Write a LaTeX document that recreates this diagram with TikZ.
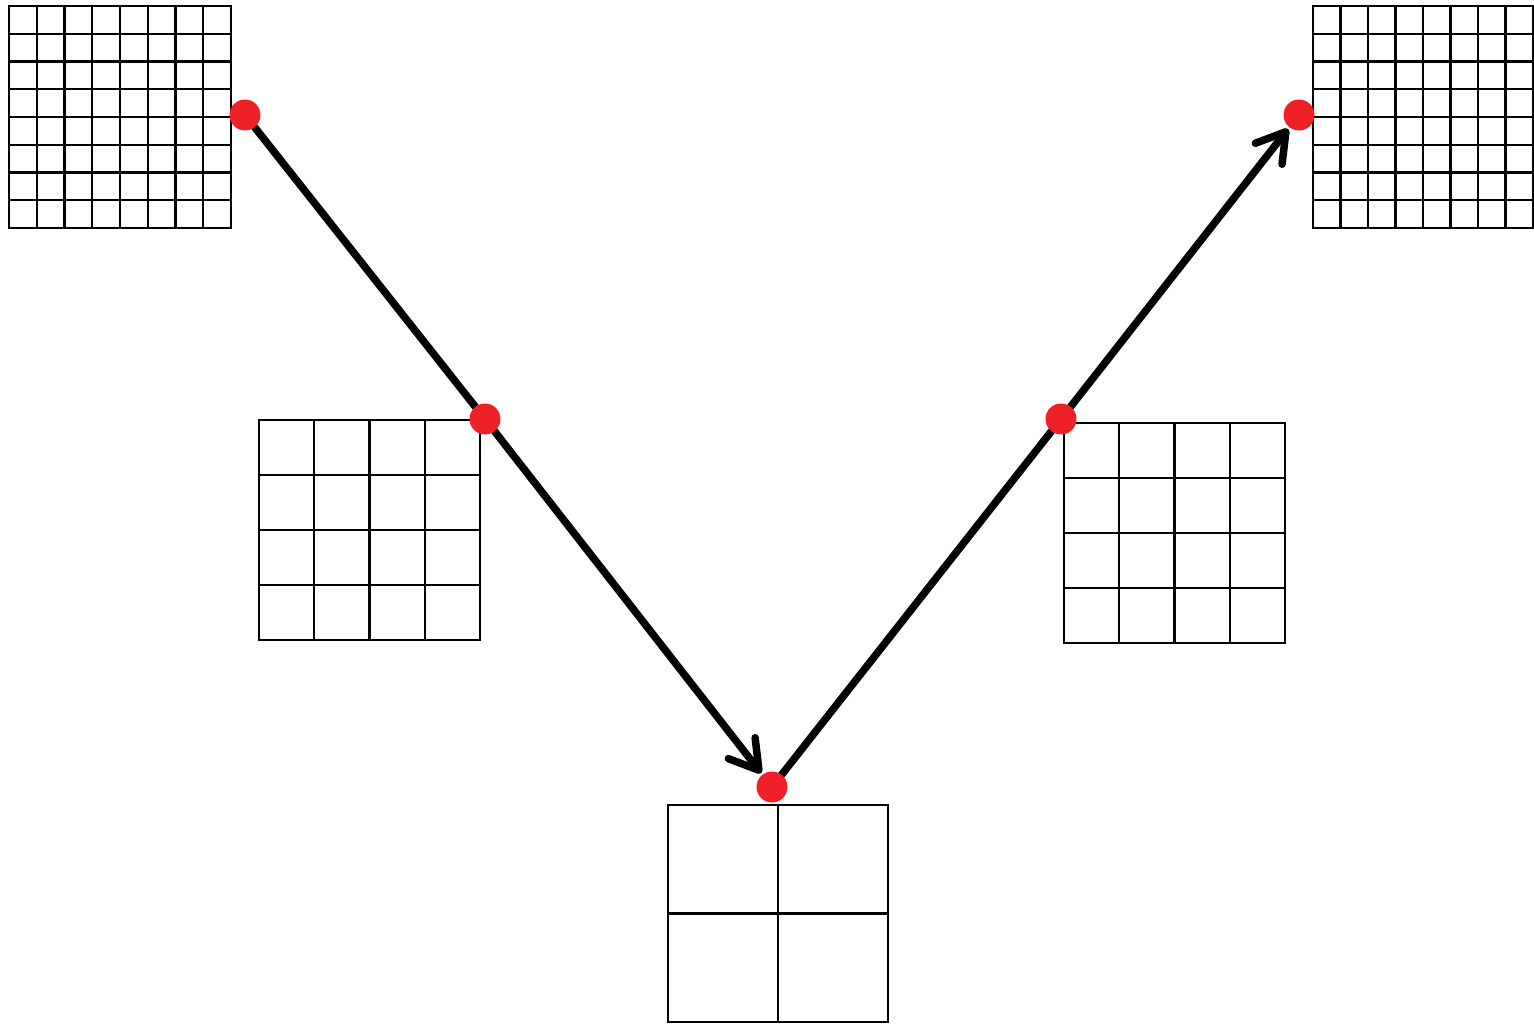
\documentclass[tikz,border=0pt]{standalone}
\usetikzlibrary{arrows.meta}
\pgfdeclarelayer{back}
\pgfsetlayers{back,main}
\definecolor{dotred}{HTML}{EE2226}
\tikzset{
  gridline/.style={line width=2.4pt,draw=black,line cap=rect},
  dot/.style={circle,fill=dotred,minimum size=31pt,inner sep=0pt,outer sep=0pt},
  flow/.style={line width=7.5pt,line cap=round,line join=round,shorten >=2pt,
    -{Straight Barb[length=28pt,width=34pt,line cap=round,line join=round]}}
}
\newcommand\mygrid[5]{%
  \foreach \k in {1,...,#5}{%
    \pgfmathsetmacro\xx{#1+(#3-#1)*\k/#5}%
    \pgfmathsetmacro\yy{#2+(#4-#2)*\k/#5}%
    \draw[gridline] (\xx,#2) -- (\xx,#4);
    \draw[gridline] (#1,\yy) -- (#3,\yy);
  }%
  \draw[gridline] (#1,#2) rectangle (#3,#4);
}
\begin{document}
\begin{tikzpicture}[x=1pt,y=-1pt]
\useasboundingbox (0,0) rectangle (1534,1024);
\mygrid{9}{6}{231}{228}{8}
\mygrid{1313}{6}{1533}{228}{8}
\mygrid{259}{420}{480}{640}{4}
\mygrid{1064}{423}{1285}{643}{4}
\mygrid{668}{805}{888}{1022}{2}
\node[dot] (d1) at (245,115) {};
\node[dot] (d2) at (485,419) {};
\node[dot] (d3) at (772,787) {};
\node[dot] (d4) at (1061,419) {};
\node[dot] (d5) at (1299,115) {};
\begin{pgfonlayer}{back}
\draw[flow] (d1) -- (d2) -- (d3);
\draw[flow] (d3) -- (d4) -- (d5);
\end{pgfonlayer}
\end{tikzpicture}
\end{document}
